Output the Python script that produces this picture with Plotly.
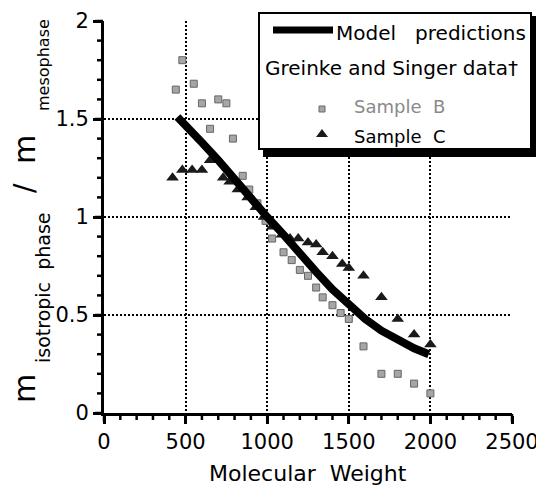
import plotly.graph_objects as go

# ---------------- data ----------------
model_mw = [450, 500, 600, 700, 800, 900, 1000, 1100, 1200, 1300, 1400, 1500, 1600, 1700, 1800, 1900, 1990]
model_ratio = [1.51, 1.47, 1.38, 1.29, 1.19, 1.10, 1.00, 0.91, 0.81, 0.72, 0.63, 0.55, 0.48, 0.42, 0.37, 0.33, 0.30]

sample_b_mw = [440, 480, 550, 600, 650, 700, 750, 790, 850, 890, 940, 990, 1030, 1100, 1150, 1200,
               1250, 1300, 1340, 1400, 1450, 1500, 1590, 1700, 1800, 1900, 2000]
sample_b_ratio = [1.65, 1.80, 1.68, 1.58, 1.45, 1.60, 1.58, 1.40, 1.21, 1.14, 1.07, 0.98, 0.89, 0.82, 0.78, 0.73,
                  0.70, 0.64, 0.59, 0.55, 0.51, 0.48, 0.34, 0.20, 0.20, 0.15, 0.10]

sample_c_mw = [420, 480, 540, 600, 650, 730, 770, 820, 880, 930, 980, 1030, 1090, 1140, 1190, 1250,
               1300, 1340, 1400, 1460, 1500, 1590, 1700, 1800, 1900, 2000]
sample_c_ratio = [1.20, 1.24, 1.24, 1.24, 1.29, 1.20, 1.18, 1.14, 1.10, 1.05, 1.00, 0.95, 0.91, 0.89, 0.89, 0.87,
                  0.86, 0.82, 0.80, 0.76, 0.74, 0.70, 0.59, 0.48, 0.40, 0.35]

x_ticks = [0, 500, 1000, 1500, 2000, 2500]
x_tick_labels = ["0", "500", "1000", "1500", "2000", "2500"]
y_ticks = [0, 0.5, 1, 1.5, 2]
y_tick_labels = ["0", "0.5", "1", "1.5", "2"]
x_minor_step = 100
y_minor_step = 0.1

# ---------------- layout geometry (page pixels) ----------------
PAGE_W, PAGE_H = 544, 487
OFF = 8                      # default body margin of the html page
W, H = PAGE_W - OFF, PAGE_H - OFF
L, R, T, B = 104, 512, 21, 413   # plot area in page pixels
X_RANGE = [x_ticks[0], x_ticks[-1]]
Y_RANGE = [y_ticks[0], y_ticks[-1]]
FONT = "DejaVu Sans"


def px(xp):
    return (xp - L) / (R - L)


def py(yp):
    return (B - yp) / (B - T)


fig = go.Figure(layout=dict(template="none"))

fig.add_trace(go.Scatter(
    x=sample_b_mw, y=sample_b_ratio, mode="markers", name="Sample B",
    marker=dict(symbol="square", size=7, color="#a6a6a6", line=dict(width=1, color="#666666")),
))
fig.add_trace(go.Scatter(
    x=sample_c_mw, y=sample_c_ratio, mode="markers", name="Sample C",
    marker=dict(symbol="triangle-up", size=11, color="#1a1a1a", line=dict(width=0)),
))
fig.add_trace(go.Scatter(
    x=model_mw, y=model_ratio, mode="lines", name="Model predictions",
    line=dict(color="black", width=8),
))

fig.update_xaxes(
    range=X_RANGE, tickmode="array", tickvals=x_ticks, ticktext=x_tick_labels,
    showline=True, linewidth=3, linecolor="black",
    ticks="outside", ticklen=8, tickwidth=3, tickcolor="#000000",
    showgrid=True, gridcolor="black", gridwidth=2, griddash="2px,2px",
    zeroline=False, tickfont=dict(family=FONT, size=21, color="black"),
)
fig.update_yaxes(
    range=Y_RANGE, tickmode="array", tickvals=y_ticks, ticktext=y_tick_labels,
    showline=True, linewidth=3, linecolor="black",
    ticks="outside", ticklen=8, tickwidth=3, tickcolor="#000000",
    showgrid=True, gridcolor="black", gridwidth=2, griddash="2px,2px",
    zeroline=False, tickfont=dict(family=FONT, size=21, color="black"),
)

shapes = []
# explicit tick marks (major + minor), placed in paper space so they are not clipped
x_minor = [i * x_minor_step for i in range(int(x_ticks[-1] / x_minor_step) + 1)]
y_minor = [round(i * y_minor_step, 2) for i in range(int(round(y_ticks[-1] / y_minor_step)) + 1)]
for v in x_minor:
    ln = 8 if v in x_ticks else 6
    xf = (v - X_RANGE[0]) / (X_RANGE[1] - X_RANGE[0])
    shapes.append(dict(type="line", xref="paper", yref="paper", x0=xf, x1=xf, y0=py(B + 1), y1=py(B + 1 + ln),
                       line=dict(width=2.5, color="black"), layer="above"))
for v in y_minor:
    ln = 8 if v in y_ticks else 6
    yf = (v - Y_RANGE[0]) / (Y_RANGE[1] - Y_RANGE[0])
    shapes.append(dict(type="line", xref="paper", yref="paper", x0=px(L - 1), x1=px(L - 1 - ln), y0=yf, y1=yf,
                       line=dict(width=2.5, color="black"), layer="above"))

shapes += [
    # legend shadow
    dict(type="rect", xref="paper", yref="paper", x0=px(263), x1=px(537), y0=py(157), y1=py(16),
         fillcolor="black", line=dict(width=0), layer="above"),
    # legend box
    dict(type="rect", xref="paper", yref="paper", x0=px(259), x1=px(531), y0=py(149), y1=py(13),
         fillcolor="white", line=dict(width=2, color="black"), layer="above"),
    # model line sample
    dict(type="line", xref="paper", yref="paper", x0=px(273), x1=px(333), y0=py(30), y1=py(30),
         line=dict(width=7, color="black"), layer="above"),
    # Sample B glyph
    dict(type="rect", xref="paper", yref="paper", x0=px(319), x1=px(325), y0=py(112), y1=py(106),
         fillcolor="#a6a6a6", line=dict(width=1, color="#666666"), layer="above"),
    # Sample C glyph
    dict(type="path", xref="paper", yref="paper",
         path=f"M {px(316)} {py(137)} L {px(328)} {py(137)} L {px(322)} {py(129)} Z",
         fillcolor="#1a1a1a", line=dict(width=0), layer="above"),
]

annotations = [
    dict(text="Model\u00a0\u00a0\u00a0predictions", x=px(334), y=py(33), xanchor="left", yanchor="middle",
         font=dict(family=FONT, size=20, color="black")),
    dict(text="Greinke and Singer data\u2020", x=px(263), y=py(68), xanchor="left", yanchor="middle",
         font=dict(family=FONT, size=20, color="black")),
    dict(text="Sample\u00a0\u00a0B", x=px(352), y=py(107), xanchor="left", yanchor="middle",
         font=dict(family=FONT, size=18, color="#8a8a8a")),
    dict(text="Sample\u00a0\u00a0C", x=px(352), y=py(136), xanchor="left", yanchor="middle",
         font=dict(family=FONT, size=18, color="black")),
    # x-axis title
    dict(text="Molecular\u00a0\u00a0Weight", x=px(308), y=py(473), xanchor="center", yanchor="middle",
         font=dict(family=FONT, size=22, color="black")),
    # y-axis title pieces
    dict(text="m", x=px(24), y=py(389), textangle=-90, xanchor="center", yanchor="middle",
         font=dict(family=FONT, size=30, color="black")),
    dict(text="isotropic\u00a0\u00a0phase", x=px(43), y=py(288), textangle=-90, xanchor="center", yanchor="middle",
         font=dict(family=FONT, size=19, color="black")),
    dict(text="/", x=px(25), y=py(188), textangle=-90, xanchor="center", yanchor="middle",
         font=dict(family=FONT, size=28, color="black")),
    dict(text="m", x=px(24), y=py(150), textangle=-90, xanchor="center", yanchor="middle",
         font=dict(family=FONT, size=30, color="black")),
    dict(text="mesophase", x=px(43), y=py(65), textangle=-90, xanchor="center", yanchor="middle",
         font=dict(family=FONT, size=16, color="black")),
]
for a in annotations:
    a.update(xref="paper", yref="paper", showarrow=False)

fig.update_layout(
    width=W, height=H,
    margin=dict(l=L - OFF, r=PAGE_W - R, t=T - OFF, b=PAGE_H - B, autoexpand=False),
    paper_bgcolor="white", plot_bgcolor="white",
    showlegend=False,
    font=dict(family=FONT, color="black"),
    shapes=shapes, annotations=annotations,
)

fig.write_html("out.html")
